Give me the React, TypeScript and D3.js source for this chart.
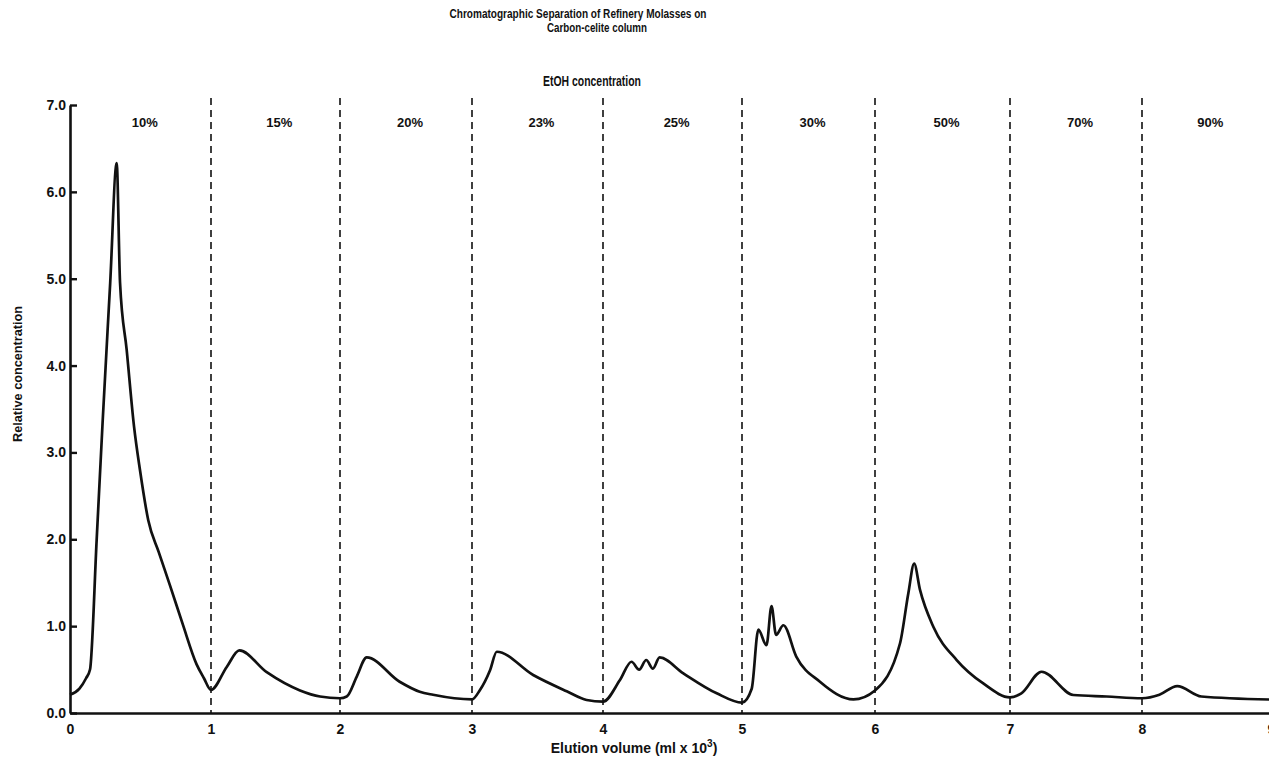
import React, { useEffect, useRef } from "react";
import * as d3 from "d3";

// elution volume (ml x 10^3) and relative concentration
const elution = [
  0.0, 0.067, 0.114, 0.142, 0.189, 0.232, 0.285, 0.331, 0.355, 0.402, 0.454, 0.496, 0.555, 0.63, 0.709,
  0.8, 0.898, 0.95, 1.0, 1.122, 1.22, 1.432, 1.69, 1.845, 2.0, 2.051, 2.127, 2.202, 2.452, 2.604,
  2.705, 3.0, 3.061, 3.137, 3.189, 3.467, 3.723, 3.875, 4.0, 4.122, 4.205, 4.26, 4.311, 4.359, 4.407,
  4.578, 4.818, 5.0, 5.073, 5.123, 5.184, 5.222, 5.256, 5.311, 5.408, 5.586, 5.838, 6.0, 6.185, 6.247,
  6.29, 6.333, 6.433, 6.605, 6.802, 7.0, 7.086, 7.239, 7.48, 7.732, 8.0, 8.135, 8.273, 8.46, 8.99,
];
const concentration = [
  0.21, 0.28, 0.4, 0.5, 1.99, 3.37, 4.95, 6.33, 4.95, 4.18, 3.3, 2.8, 2.22, 1.85, 1.47,
  1.02, 0.56, 0.4, 0.265, 0.53, 0.72, 0.47, 0.26, 0.19, 0.17, 0.19, 0.42, 0.64, 0.36, 0.245,
  0.21, 0.157, 0.265, 0.49, 0.705, 0.437, 0.25, 0.15, 0.13, 0.38, 0.59, 0.5, 0.61, 0.51, 0.64,
  0.457, 0.227, 0.12, 0.28, 0.96, 0.78, 1.23, 0.9, 1.01, 0.65, 0.36, 0.157, 0.26, 0.8, 1.38,
  1.72, 1.42, 0.99, 0.61, 0.34, 0.18, 0.227, 0.475, 0.207, 0.19, 0.17, 0.21, 0.31, 0.19, 0.155,
];

const fractionBounds = [1, 2, 3, 4, 5, 6, 7, 8];
const etohLabels = ["10%", "15%", "20%", "23%", "25%", "30%", "50%", "70%", "90%"];
const xTicks = [0, 1, 2, 3, 4, 5, 6, 7, 8, 9];
const yTicks = [0, 1, 2, 3, 4, 5, 6, 7];

const FONT = "'Liberation Sans', Arial, sans-serif";

export default function App() {
  const ref = useRef<SVGSVGElement>(null);

  useEffect(() => {
    const width = 1269,
      height = 757;
    const svg = d3.select(ref.current);
    svg.selectAll("*").remove();
    svg.attr("width", width).attr("height", height);

    // the printed axis is not quite evenly spaced, so use a piecewise scale
    const x = d3
      .scaleLinear()
      .domain(xTicks)
      .range([70, 211, 340, 472, 603, 742, 875, 1010, 1142, 1271]);
    const y = d3.scaleLinear().domain([0, 7]).range([713, 105]);

    const addText = (
      tx: number,
      ty: number,
      str: string,
      size: number,
      len?: number
    ) => {
      const el = svg
        .append("text")
        .attr("x", tx)
        .attr("y", ty)
        .attr("text-anchor", "middle")
        .attr("font-family", FONT)
        .attr("font-weight", "bold")
        .attr("font-size", size)
        .attr("fill", "#111")
        .text(str);
      if (len) el.attr("textLength", len).attr("lengthAdjust", "spacingAndGlyphs");
      return el;
    };

    // titles
    addText(578, 18, "Chromatographic Separation of Refinery Molasses on", 13, 257);
    addText(597, 32, "Carbon-celite column", 13, 100);
    addText(592, 86, "EtOH concentration", 14, 98);

    // dashed fraction boundaries
    svg.append("g")
      .selectAll("line")
      .data(fractionBounds)
      .enter()
      .append("line")
      .attr("x1", (d) => x(d))
      .attr("x2", (d) => x(d))
      .attr("y1", y(7.08))
      .attr("y2", y(0))
      .attr("stroke", "#111")
      .attr("stroke-width", 1.6)
      .attr("stroke-dasharray", "7,5");

    // EtOH % labels in the middle of each fraction
    svg.append("g")
      .selectAll("text")
      .data(etohLabels)
      .enter()
      .append("text")
      .attr("x", (d, i) => x(i + 0.53))
      .attr("y", 127)
      .attr("text-anchor", "middle")
      .attr("font-family", FONT)
      .attr("font-weight", "bold")
      .attr("font-size", 13)
      .attr("fill", "#111")
      .text((d) => d);

    // axes
    const xAxis = svg.append("g")
      .attr("transform", `translate(0,${y(0)})`)
      .call(d3.axisBottom(x).tickValues(xTicks).tickSize(0).tickPadding(11).tickFormat(d3.format("d")));
    const yAxis = svg.append("g")
      .attr("transform", `translate(${x(0)},0)`)
      .call(d3.axisLeft(y).tickValues(yTicks).tickSizeInner(-7).tickSizeOuter(0).tickPadding(4).tickFormat(d3.format(".1f")));

    [xAxis, yAxis].forEach((a) => {
      a.select(".domain").attr("stroke", "#111").attr("stroke-width", 2.6);
      a.selectAll(".tick line").attr("stroke", "#111").attr("stroke-width", 2.4);
      a.selectAll(".tick text")
        .attr("font-family", FONT)
        .attr("font-weight", "bold")
        .attr("font-size", 14)
        .attr("fill", "#111");
    });

    addText(0, 0, "Relative concentration", 13, 136).attr(
      "transform",
      "translate(22,374) rotate(-90)"
    );

    const xl = svg.append("text")
      .attr("x", 634)
      .attr("y", 753)
      .attr("text-anchor", "middle")
      .attr("font-family", FONT)
      .attr("font-weight", "bold")
      .attr("font-size", 14)
      .attr("fill", "#111");
    xl.append("tspan").text("Elution volume (ml x 10");
    xl.append("tspan").attr("dy", -6).attr("font-size", 10).text("3");
    xl.append("tspan").attr("dy", 6).text(")");

    // trace
    const points = elution.map((v, i) => [v, concentration[i]] as [number, number]);
    const line = d3.line<[number, number]>()
      .x((d) => x(d[0]))
      .y((d) => y(d[1]))
      .curve(d3.curveMonotoneX);

    svg.append("path")
      .datum(points)
      .attr("d", line)
      .attr("fill", "none")
      .attr("stroke", "#111")
      .attr("stroke-width", 2.7)
      .attr("stroke-linejoin", "round");
  }, []);

  return (
    <div style={{ position: "absolute", left: 0, top: 0, background: "#fff" }}>
      <svg ref={ref} style={{ display: "block" }}></svg>
    </div>
  );
}
